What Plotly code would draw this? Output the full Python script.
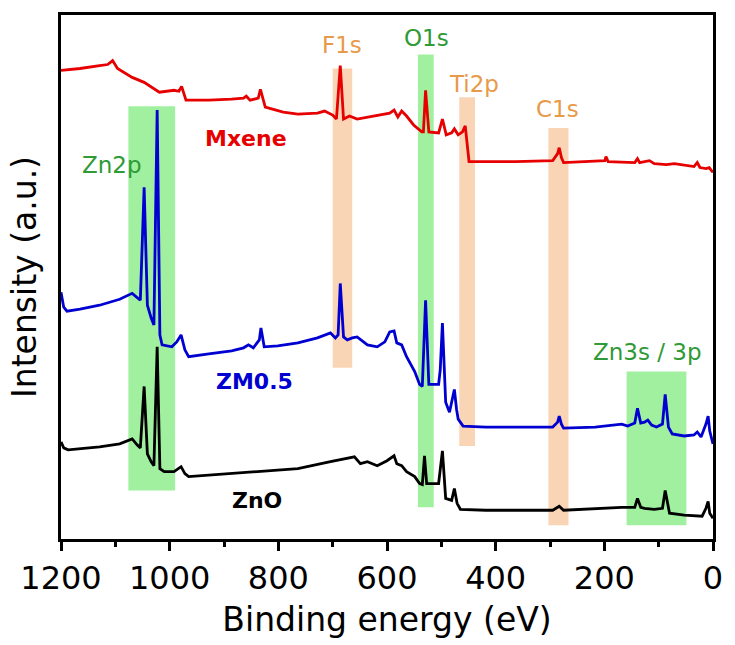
import plotly.graph_objects as go

# ---------------- data (binding energy eV, intensity a.u., stacked offsets) ----------------
mx_x = [1200, 1165, 1129, 1114, 1105, 1096, 1069, 1047, 1019, 992, 983, 978, 970, 928, 886, 864, 859, 852, 837, 833,
        824, 791, 764, 728, 715, 700, 693, 686, 680, 669, 655, 618, 595, 587, 580, 573, 564, 551, 536, 533, 529, 523,
        505, 498, 491, 481, 476, 469, 461, 456, 449, 418, 363, 295, 286, 283, 279, 275, 217, 199, 197, 193, 144, 139,
        135, 117, 108, 86, 71, 35, 29, 24, 13, 7, 0]
mx_y = [473, 475, 478, 479, 483, 475, 466, 461, 451, 453, 452, 457, 443, 443, 444, 445, 447, 443, 445, 454,
        436, 431, 429, 430, 432, 428, 424, 478, 424, 427, 424, 428, 430, 433, 426, 432, 427, 418, 411, 411, 453, 411,
        410, 424, 408, 410, 414, 408, 411, 417, 381, 381, 381, 382, 389, 395, 385, 380, 381, 382, 386, 381, 380, 384,
        380, 382, 379, 378, 379, 376, 380, 375, 374, 375, 370]

zm_x = [1200, 1198, 1195, 1189, 1165, 1129, 1092, 1069, 1060, 1054, 1047, 1041, 1034, 1029, 1023, 1018, 1014, 996,
        987, 979, 972, 965, 928, 886, 864, 855, 846, 835, 832, 826, 801, 764, 728, 704, 695, 690, 686, 680, 673, 664,
        655, 636, 618, 604, 595, 587, 582, 573, 564, 558, 549, 540, 535, 529, 523, 505, 502, 498, 492, 485, 480, 476,
        472, 469, 460, 418, 345, 295, 286, 283, 279, 275, 217, 168, 157, 144, 139, 133, 126, 120, 113, 104, 93, 88,
        82, 75, 53, 35, 29, 22, 13, 9, 6, 0]
zm_y = [249, 244, 234, 230, 232, 236, 242, 248, 244, 241, 355, 236, 223, 216, 433, 206, 196, 194,
        199, 206, 191, 184, 187, 190, 193, 196, 193, 201, 213, 194, 195, 198, 203, 208, 203, 206, 258, 204, 201, 203,
        204, 196, 194, 199, 209, 210, 198, 196, 184, 178, 169, 156, 154, 241, 156, 156, 171, 218, 138, 128, 141, 151,
        131, 121, 114, 113, 113, 113, 118, 124, 116, 112, 113, 116, 114, 117, 132, 117, 118, 120, 115, 113, 116, 146,
        113, 106, 104, 105, 108, 103, 116, 124, 109, 96]

zn_x = [1200, 1195, 1187, 1129, 1092, 1069, 1060, 1054, 1047, 1041, 1034, 1029, 1023, 1018, 1010, 992, 979, 972,
        965, 886, 764, 704, 673, 660, 649, 636, 618, 600, 587, 582, 573, 564, 549, 540, 535, 531, 527, 505, 498, 492,
        481, 476, 471, 465, 418, 295, 283, 275, 168, 144, 139, 133, 126, 108, 93, 88, 80, 53, 20, 13, 9, 6, 0]
zn_y = [98, 92, 90, 93, 96, 101, 95, 92, 154, 86, 78, 74, 194, 71, 68, 68, 73, 66,
        63, 66, 71, 78, 81, 83, 76, 78, 74, 79, 84, 76, 74, 68, 63, 56, 55, 84, 56, 56, 89, 41,
        39, 51, 36, 30, 29, 29, 33, 29, 32, 32, 41, 32, 31, 30, 31, 49, 26, 24, 23, 31, 38, 26, 21]

# highlight bands: label, x0, x1, y0, y1, kind
band_names = ["Zn2p", "F1s", "O1s", "Ti2p", "C1s", "Zn3s / 3p"]
band_x0 = [990, 664, 514, 438, 266, 49]
band_x1 = [1076, 700, 543, 467, 303, 159]
band_y0 = [49, 173, 32, 94, 14, 14]
band_y1 = [437, 475, 489, 446, 415, 169]
band_kind = ["g", "o", "g", "o", "o", "g"]
band_lab_x = [1107, 682, 527, 440, 286, 120]
band_lab_y = [378, 499, 506, 459, 434, 189]

series_names = ["Mxene", "ZM0.5", "ZnO"]
series_lab_x = [859, 843, 839]
series_lab_y = [404, 159, 39]

x_ticks = [1200, 1000, 800, 600, 400, 200, 0]

# ---------------- styles ----------------
FONT = "DejaVu Sans, Liberation Sans, sans-serif"
fill_col = {"g": "rgba(150,238,150,0.9)", "o": "rgba(248,208,174,0.9)"}
text_col = {"g": "#2f9a36", "o": "#e79a4a"}
line_col = ["#e60000", "#0000d0", "#000000"]

fig = go.Figure()

for xs, ys, nm, c in zip([mx_x, zm_x, zn_x], [mx_y, zm_y, zn_y], series_names, line_col):
    fig.add_trace(go.Scatter(x=xs, y=ys, mode="lines", name=nm,
                             line=dict(color=c, width=2.8), showlegend=False))

for nm, x0, x1, y0, y1, k, lx, ly in zip(band_names, band_x0, band_x1, band_y0, band_y1,
                                        band_kind, band_lab_x, band_lab_y):
    fig.add_shape(type="rect", x0=x0, x1=x1, y0=y0, y1=y1, xref="x", yref="y",
                  fillcolor=fill_col[k], line=dict(width=0), layer="below")
    fig.add_annotation(x=lx, y=ly, text=nm, showarrow=False,
                       font=dict(family=FONT, size=23, color=text_col[k]))

for nm, lx, ly, c in zip(series_names, series_lab_x, series_lab_y, line_col):
    fig.add_annotation(x=lx, y=ly, text="<b>" + nm + "</b>", showarrow=False,
                       font=dict(family=FONT, size=22, color=c))

fig.update_layout(
    width=735, height=645,
    margin=dict(l=61, r=16, t=12, b=104),
    paper_bgcolor="white", plot_bgcolor="white",
    font=dict(family=FONT, color="black"),
    xaxis=dict(range=[1200, 0], showgrid=False, zeroline=False,
               showline=True, linewidth=3, linecolor="black", mirror=True,
               ticks="outside", ticklen=9, tickwidth=3, tickcolor="black",
               tickvals=x_ticks, tickfont=dict(size=32),
               minor=dict(dtick=100, ticks="outside", ticklen=5, tickwidth=3, tickcolor="black"),
               title=dict(text="Binding energy (eV)", font=dict(size=33), standoff=12)),
    yaxis=dict(range=[0, 529], showgrid=False, zeroline=False,
               showline=True, linewidth=3, linecolor="black", mirror=True,
               showticklabels=False, ticks="",
               title=dict(text="Intensity (a.u.)", font=dict(size=33), standoff=12)),
)

fig.write_html("out.html")
